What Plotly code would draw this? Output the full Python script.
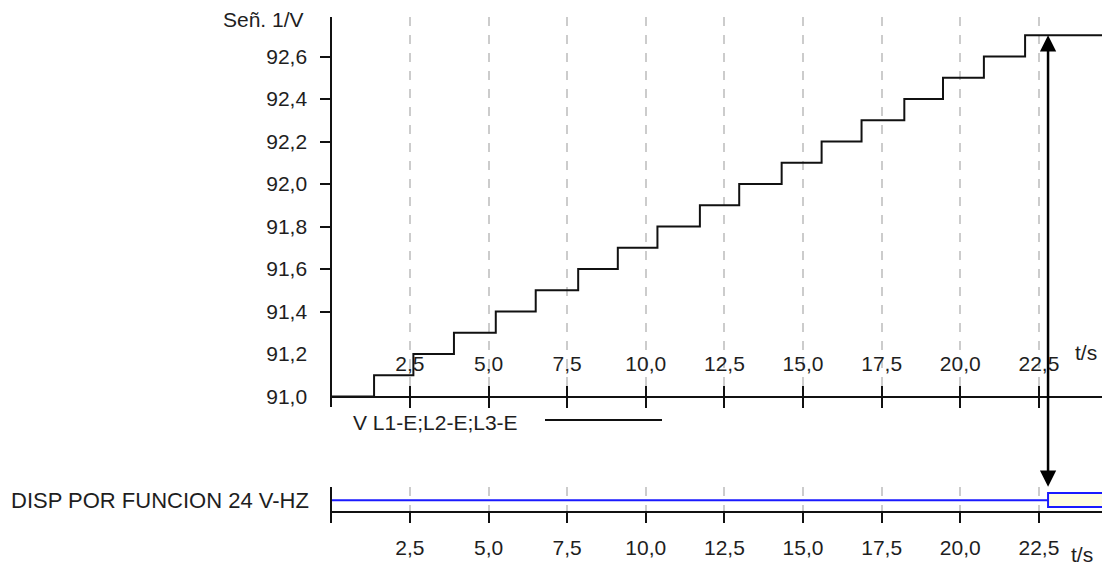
import plotly.graph_objects as go

# ---------------- data ----------------
step_t = [0.0, 1.36, 2.61, 3.90, 5.23, 6.50, 7.85, 9.11, 10.37, 11.72,
          12.97, 14.32, 15.59, 16.86, 18.22, 19.45, 20.75, 22.06]
step_v = [91.0, 91.1, 91.2, 91.3, 91.4, 91.5, 91.6, 91.7, 91.8, 91.9,
          92.0, 92.1, 92.2, 92.3, 92.4, 92.5, 92.6, 92.7]
t_end = 24.6

trip_t = 22.79          # time the digital signal switches on
digital_name = "DISP POR FUNCION 24 V-HZ"
analog_name = "V L1-E;L2-E;L3-E"

x_ticks = [2.5, 5.0, 7.5, 10.0, 12.5, 15.0, 17.5, 20.0, 22.5]
y_ticks = [91.0, 91.2, 91.4, 91.6, 91.8, 92.0, 92.2, 92.4, 92.6]

# ---------------- geometry helpers (pixels of 1102x567 page) ----------------
W, H = 1102, 567
def px(x): return x / W
def py(y): return (H - y) / H

X0 = 331.3
PX_PER_S = 31.45
X_MAX = (W - X0) / PX_PER_S
AX_Y = 396.5
PX_PER_V = 212.5
Y_RANGE = [91.0 - 10.5 / PX_PER_V, 91.0 + (AX_Y - 17) / PX_PER_V]

FONT = "Liberation Sans, Arial, sans-serif"
FS = 21
TXT = "#1e1e1e"

# digital level drawing constants (y2 units)
OFF_LVL = 0.63
BOX_LO, BOX_HI = 0.444, 0.833

fig = go.Figure()

fig.add_trace(go.Scatter(
    x=step_t + [t_end], y=step_v + [step_v[-1]],
    mode="lines", line=dict(color="#111", width=2, shape="hv"),
    xaxis="x", yaxis="y", showlegend=False, hoverinfo="skip"))
# invisible companions so the overlay axes (x3 labels, y3 labels) are rendered
fig.add_trace(go.Scatter(
    x=[step_t[0]], y=[step_v[0]], mode="markers", opacity=0,
    xaxis="x3", yaxis="y", showlegend=False, hoverinfo="skip"))
fig.add_trace(go.Scatter(
    x=[step_t[0]], y=[step_v[0]], mode="markers", opacity=0,
    xaxis="x", yaxis="y3", showlegend=False, hoverinfo="skip"))

fig.add_trace(go.Scatter(
    x=[0, trip_t], y=[OFF_LVL, OFF_LVL], mode="lines",
    line=dict(color="#1a1aff", width=2),
    xaxis="x2", yaxis="y2", showlegend=False, hoverinfo="skip"))
fig.add_trace(go.Scatter(
    x=[trip_t, trip_t, t_end, t_end, trip_t, trip_t],
    y=[BOX_LO, BOX_HI, BOX_HI, BOX_LO, BOX_LO, BOX_HI],
    mode="lines", fill="toself", fillcolor="#FFFCE0",
    line=dict(color="#1a1aff", width=2),
    xaxis="x2", yaxis="y2", showlegend=False, hoverinfo="skip"))

tickfont = dict(family=FONT, size=FS, color=TXT)
grid = dict(showgrid=True, gridcolor="#cccccc", gridwidth=2, griddash="dash")

fig.update_layout(
    width=W, height=H, margin=dict(l=0, r=0, t=0, b=0),
    paper_bgcolor="white", plot_bgcolor="white",
    separators=", ", showlegend=False,
    # top time axis: line, outward ticks and grid
    xaxis=dict(domain=[px(X0), 1], range=[0, X_MAX], anchor="free",
               position=py(AX_Y), showline=True, linecolor="#111", linewidth=2,
               ticks="outside", ticklen=10, tickwidth=2, tickcolor="#111",
               tickvals=x_ticks, showticklabels=False,
               zeroline=False, **grid),
    # top time axis overlay: inward ticks and the labels inside the plot
    xaxis3=dict(overlaying="x", range=[0, X_MAX], anchor="free",
                position=py(AX_Y), showline=False, ticks="inside", ticklen=11,
                tickwidth=2, tickcolor="#111", tickvals=x_ticks,
                tickformat=".1f", tickfont=tickfont,
                ticklabelposition="inside", ticklabelstandoff=12,
                showgrid=False, zeroline=False),
    # value axis: line and ticks
    yaxis=dict(domain=[py(407), py(17)], range=Y_RANGE,
               anchor="free", position=px(X0), showline=True, linecolor="#111",
               linewidth=2, ticks="outside", ticklen=10, tickwidth=2,
               tickcolor="#111", tickvals=y_ticks, showticklabels=False,
               showgrid=False, zeroline=False),
    # value axis overlay: labels
    yaxis3=dict(overlaying="y", range=Y_RANGE, anchor="free",
                position=px(X0), showline=False, ticks="outside", ticklen=10,
                tickcolor="rgba(0,0,0,0)", tickvals=y_ticks,
                tickformat=".1f", tickfont=tickfont, ticklabelstandoff=10,
                showgrid=False, zeroline=False),
    xaxis2=dict(domain=[px(X0), 1], range=[0, X_MAX], anchor="free",
                position=py(512), showline=True, linecolor="#111", linewidth=2,
                ticks="outside", ticklen=10, tickwidth=2, tickcolor="#111",
                tickvals=x_ticks, tickformat=".1f", tickfont=tickfont,
                ticklabelstandoff=7, zeroline=False, **grid),
    yaxis2=dict(domain=[py(523), py(487)], range=[0, 1], anchor="free",
                position=px(X0), showline=True, linecolor="#111", linewidth=2,
                ticks="", tickvals=[OFF_LVL], ticktext=[digital_name],
                tickfont=dict(family=FONT, size=22, color=TXT),
                ticklabelstandoff=17, showgrid=False, zeroline=False),
)

ann_font = dict(family=FONT, size=FS, color=TXT)
fig.add_annotation(text="Señ. 1/V", xref="paper", yref="paper",
                   x=px(306), y=py(19), xanchor="right", yanchor="middle",
                   showarrow=False, font=ann_font)
fig.add_annotation(text="t/s", xref="paper", yref="paper",
                   x=px(1086), y=py(352), xanchor="center", yanchor="middle",
                   showarrow=False, font=ann_font)
fig.add_annotation(text="t/s", xref="paper", yref="paper",
                   x=px(1082), y=py(554), xanchor="center", yanchor="middle",
                   showarrow=False, font=ann_font, borderpad=0)
fig.add_annotation(text=analog_name, xref="paper", yref="paper",
                   x=px(351), y=py(422), xanchor="left", yanchor="middle",
                   showarrow=False, font=ann_font)
fig.add_shape(type="line", xref="paper", yref="paper",
              x0=px(545), x1=px(662), y0=py(420), y1=py(420),
              line=dict(color="#111", width=2))

# double-headed arrow from the last analog level to the digital trip
fig.add_annotation(x=trip_t, y=step_v[-1], xref="x", yref="y",
                   ax=0, ay=453, axref="pixel", ayref="pixel", text="",
                   showarrow=True, arrowside="end+start", arrowhead=2,
                   startarrowhead=2, arrowsize=1.3, startarrowsize=1.3,
                   arrowwidth=2.5, arrowcolor="#000")

fig.write_html("out.html")
